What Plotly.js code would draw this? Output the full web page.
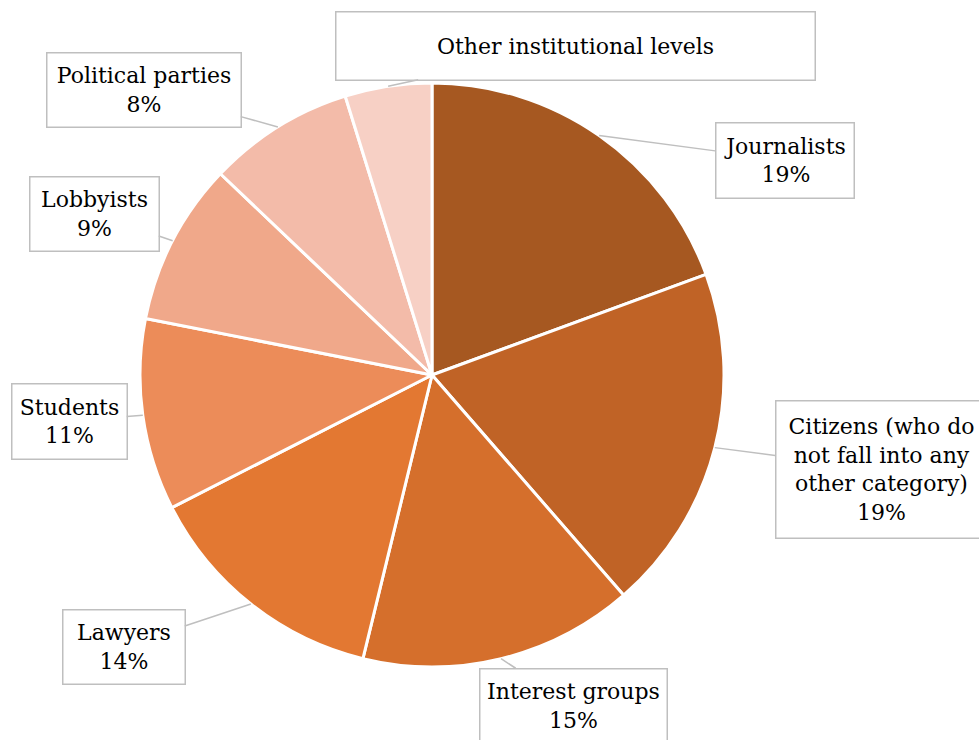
<!DOCTYPE html>
<html>
<head>
<meta charset="utf-8">
<script src="https://cdn.plot.ly/plotly-3.0.1.min.js"></script>
<style>html,body{margin:0;padding:0;background:#fff;}#chart{width:979px;height:740px;}</style>
</head>
<body>
<div id="chart"></div>
<script>
// ---- data ----
const categories = ["Journalists", "Citizens (who do not fall into any other category)", "Interest groups", "Lawyers", "Students", "Lobbyists", "Political parties", "Other institutional levels"];
const displayLabels = ["Journalists", "Citizens (who do<br>not fall into any<br>other category)", "Interest groups", "Lawyers", "Students", "Lobbyists", "Political parties", "Other institutional levels"];
const shares = [19.4, 19.2, 15.2, 13.7, 10.6, 9.0, 8.1, 4.8];
const showPercent = [true, true, true, true, true, true, true, false];
const colors = ["#A65821", "#C06326", "#D56F2C", "#E37832", "#EC8C59", "#F0A88A", "#F3BBA9", "#F7D0C5"];

// ---- layout constants (pixels) ----
const W = 979, H = 740;
const cx = 432, cy = 375, R = 292;
const FONT = "DejaVu Serif";
// label box centres and sizes [x, y, w, h]
const boxes = [
  [784.5, 160, 137, 74],
  [881, 469, 210, 136],
  [573, 705.5, 186, 73],
  [123.5, 646.5, 121, 73],
  [69, 421, 114, 74],
  [94, 213.5, 128, 73],
  [143.5, 89.5, 193, 73],
  [575, 45.5, 478, 67]
];

const total = shares.reduce((a, b) => a + b, 0);
const annotations = [];
let cum = 0;
shares.forEach((v, i) => {
  const mid = (cum + v / 2) / total * 2 * Math.PI; // clockwise from top
  cum += v;
  const tx = cx + R * Math.sin(mid);
  const ty = cy - R * Math.cos(mid);
  const b = boxes[i];
  let txt = displayLabels[i];
  if (showPercent[i]) txt += "<br>" + Math.round(v / total * 100) + "%";
  annotations.push({
    x: tx, y: ty, xref: "x", yref: "y",
    ax: b[0], ay: b[1], axref: "x", ayref: "y",
    text: txt,
    showarrow: true, arrowhead: 0, arrowwidth: 1.5, arrowcolor: "#BFBFBF", standoff: 0,
    width: b[2], height: b[3],
    bordercolor: "#BFBFBF", borderwidth: 1.5, borderpad: 0, bgcolor: "#FFFFFF",
    align: "center", valign: "middle",
    font: {family: FONT, size: 22, color: "#000000"}
  });
});

const pie = {
  type: "pie",
  labels: categories,
  values: shares,
  sort: false,
  direction: "clockwise",
  rotation: 0,
  marker: {colors: colors, line: {color: "#FFFFFF", width: 3}},
  textinfo: "none",
  hoverinfo: "label+percent",
  showlegend: false,
  domain: {x: [(cx - R) / W, (cx + R) / W], y: [(H - cy - R) / H, (H - cy + R) / H]}
};
const dummy = {type: "scatter", x: [], y: [], hoverinfo: "skip", showlegend: false};

const layout = {
  width: W, height: H,
  margin: {l: 0, r: 0, t: 0, b: 0},
  paper_bgcolor: "#FFFFFF", plot_bgcolor: "rgba(0,0,0,0)",
  showlegend: false,
  font: {family: FONT},
  xaxis: {range: [0, W], visible: false, fixedrange: true, domain: [0, 1]},
  yaxis: {range: [H, 0], visible: false, fixedrange: true, domain: [0, 1]},
  annotations: annotations
};

Plotly.newPlot("chart", [pie, dummy], layout, {displayModeBar: false, staticPlot: true});
</script>
</body>
</html>
